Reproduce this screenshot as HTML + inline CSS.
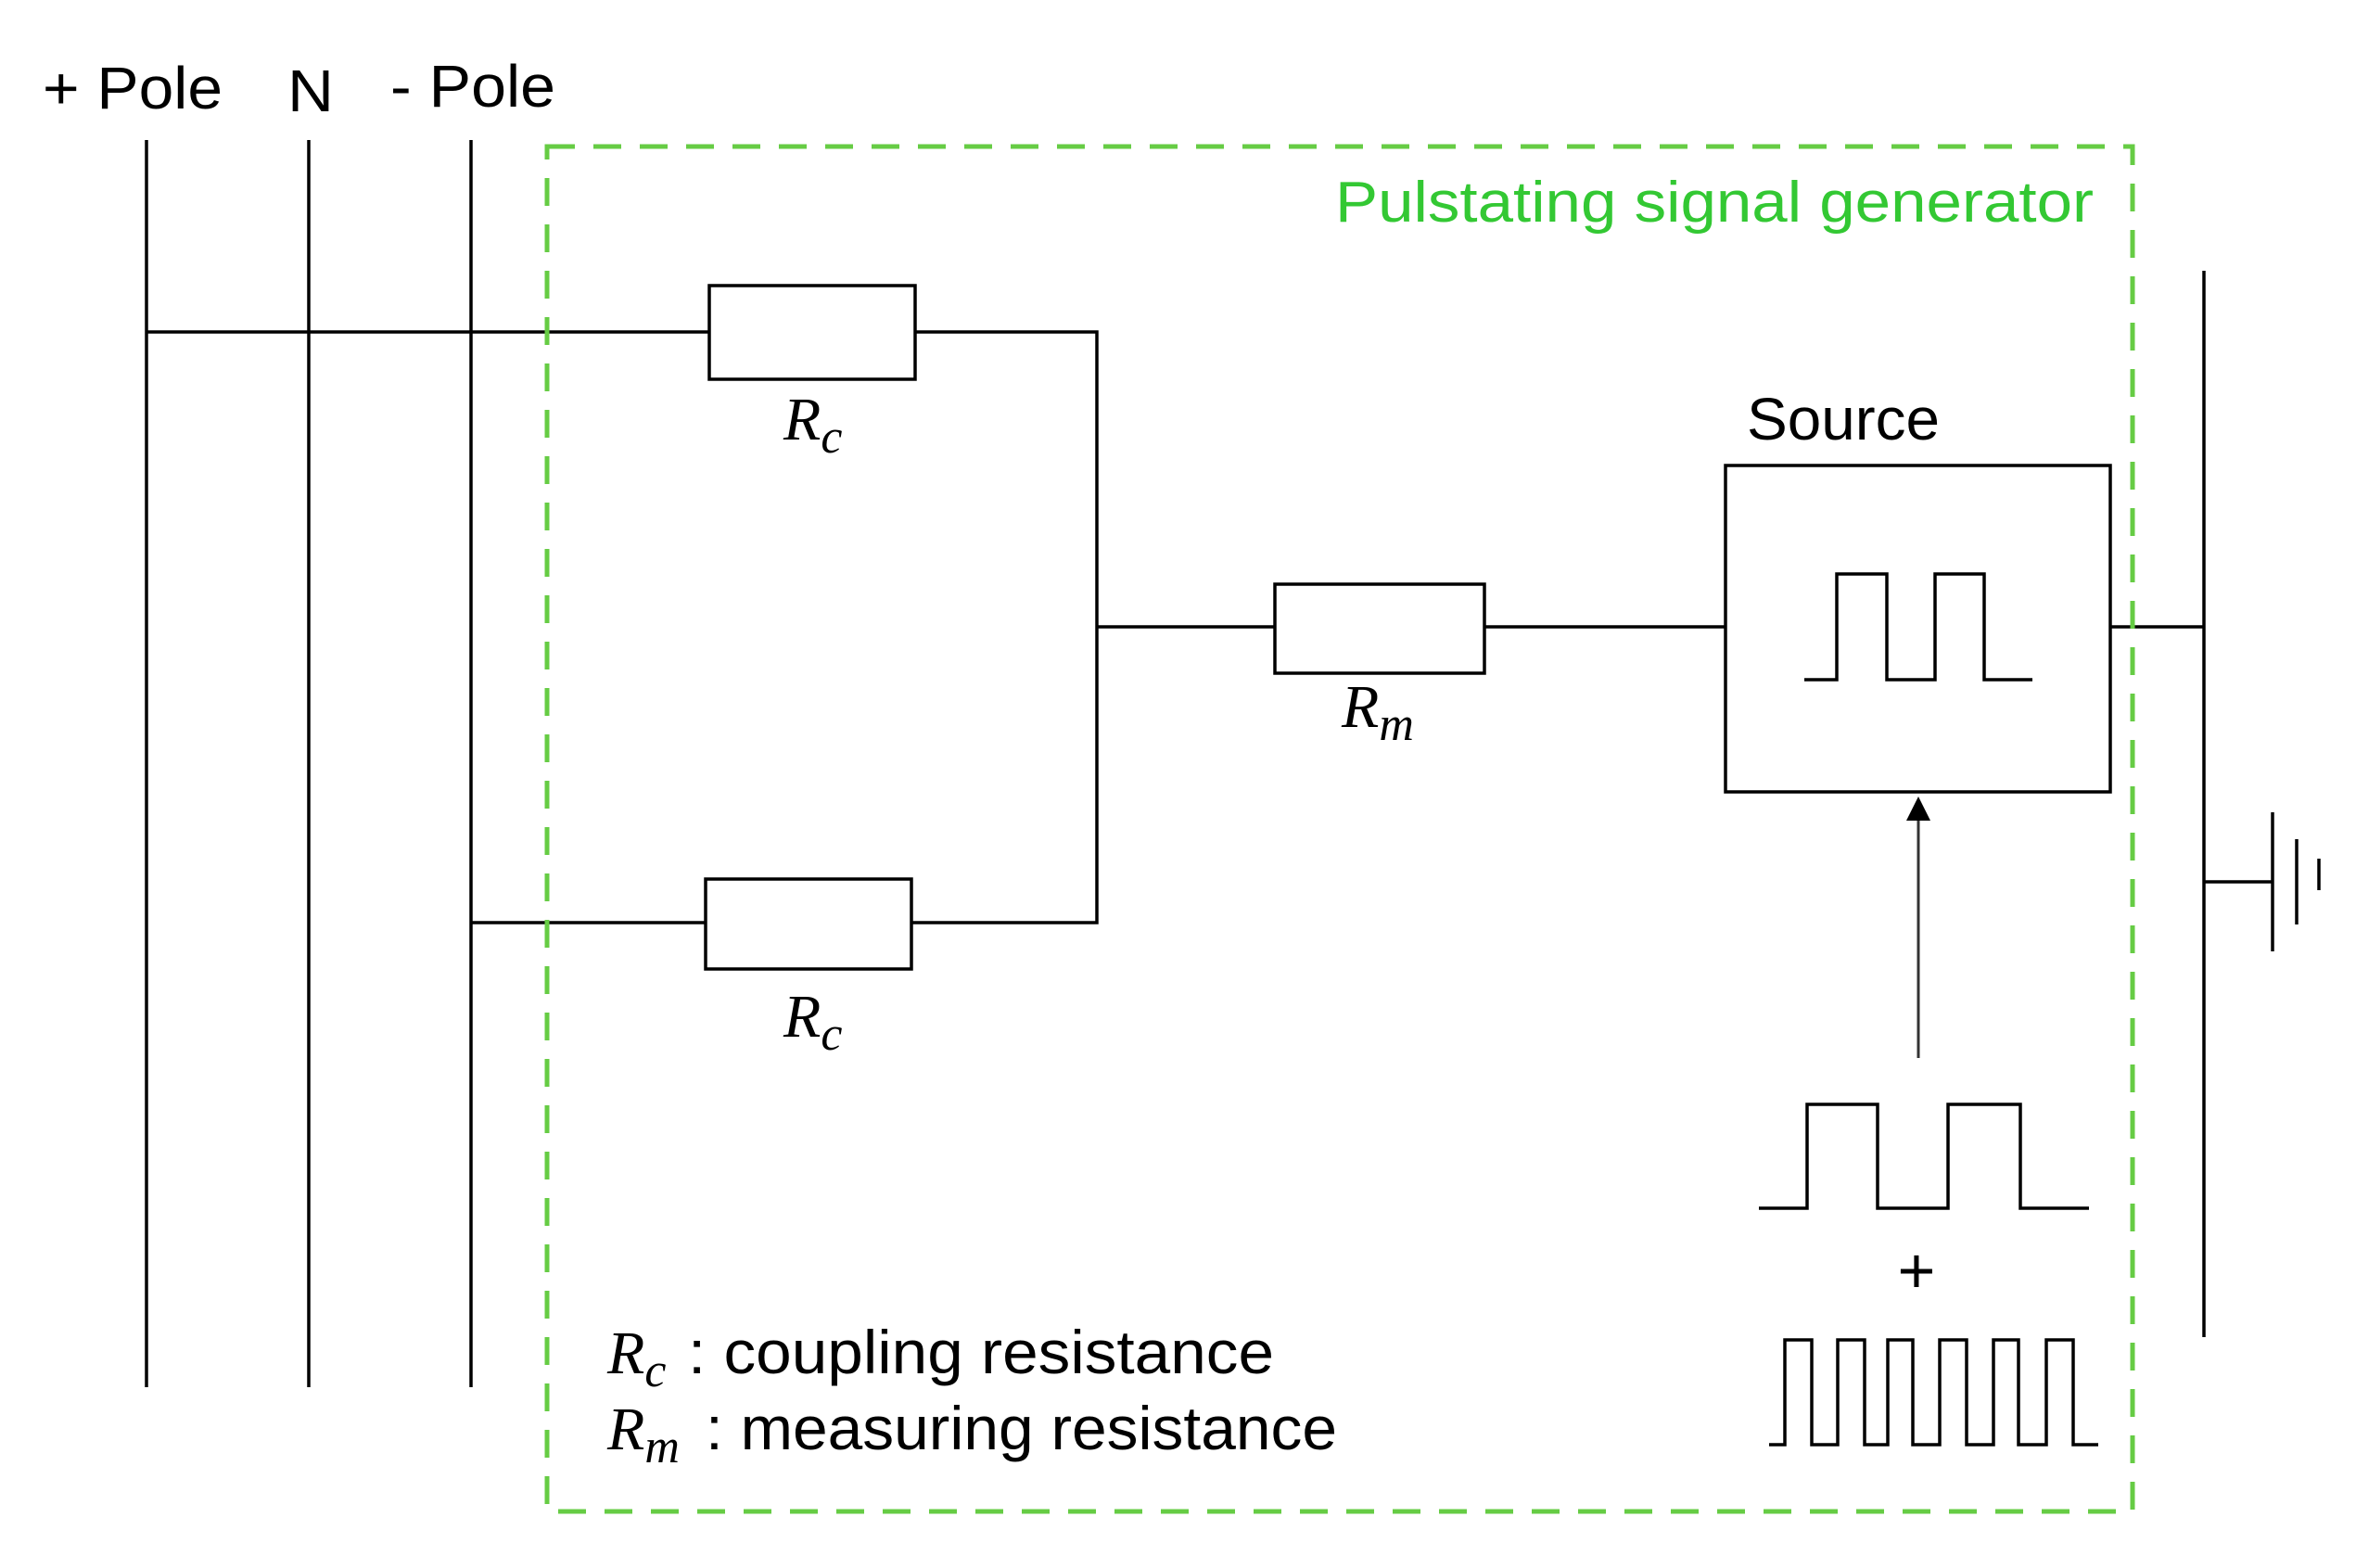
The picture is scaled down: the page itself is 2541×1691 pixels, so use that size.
<!DOCTYPE html>
<html><head><meta charset="utf-8"><style>
html,body{margin:0;padding:0;background:#fff;}
svg{display:block}
.s{font-family:"Liberation Sans",sans-serif;}
.m{font-family:"Liberation Serif",serif;font-style:italic;}
</style></head><body>
<svg width="2541" height="1691" viewBox="0 0 2541 1691" xmlns="http://www.w3.org/2000/svg">
<g stroke="#000" stroke-width="3.5" fill="none">
<line x1="158" y1="151" x2="158" y2="1496"/>
<line x1="333" y1="151" x2="333" y2="1496"/>
<line x1="508" y1="151" x2="508" y2="1496"/>
<line x1="158" y1="358" x2="765" y2="358"/>
<rect x="765" y="308" width="222" height="101" fill="#fff"/>
<polyline points="987,358 1183,358 1183,995 983,995"/>
<line x1="508" y1="995" x2="761" y2="995"/>
<rect x="761" y="948" width="222" height="97" fill="#fff"/>
<line x1="1183" y1="676" x2="1375" y2="676"/>
<rect x="1375" y="630" width="226" height="96" fill="#fff"/>
<line x1="1601" y1="676" x2="1861" y2="676"/>
<rect x="1861" y="502" width="415" height="352"/>
<line x1="2276" y1="676" x2="2377" y2="676"/>
<line x1="2377" y1="292" x2="2377" y2="1442"/>
<line x1="2377" y1="951" x2="2451" y2="951"/>
<line x1="2451" y1="876" x2="2451" y2="1026"/>
<line x1="2477" y1="905" x2="2477" y2="997"/>
<line x1="2501" y1="926" x2="2501" y2="960"/>
<polyline points="1946,733 1981,733 1981,619 2035,619 2035,733 2087,733 2087,619 2140,619 2140,733 2192,733"/>
<polyline points="1897,1303 1949,1303 1949,1191 2025,1191 2025,1303 2101,1303 2101,1191 2179,1191 2179,1303 2253,1303"/>
<polyline points="1908,1558 1925,1558 1925,1445 1954,1445 1954,1558 1982,1558 1982,1445 2011,1445 2011,1558 2036,1558 2036,1445 2063,1445 2063,1558 2092,1558 2092,1445 2121,1445 2121,1558 2150,1558 2150,1445 2177,1445 2177,1558 2207,1558 2207,1445 2236,1445 2236,1558 2263,1558"/>
</g>
<line x1="2069" y1="1141" x2="2069" y2="880" stroke="#333" stroke-width="3"/>
<polygon points="2069,859 2056,885 2082,885" fill="#000"/>
<rect x="590" y="158" width="1710" height="1472" fill="none" stroke="#66cc44" stroke-width="5" stroke-dasharray="30,20"/>
<text class="s" x="46" y="117" font-size="64" textLength="194" lengthAdjust="spacingAndGlyphs">+ Pole</text>
<text class="s" x="310" y="120" font-size="64" textLength="50" lengthAdjust="spacingAndGlyphs">N</text>
<text class="s" x="421" y="115" font-size="64" textLength="178" lengthAdjust="spacingAndGlyphs">- Pole</text>
<text class="s" x="1440" y="239" font-size="62" fill="#33c833" textLength="818" lengthAdjust="spacingAndGlyphs">Pulstating signal generator</text>
<text class="s" x="1884" y="474" font-size="64" textLength="208" lengthAdjust="spacingAndGlyphs">Source</text>
<text class="s" x="2067" y="1394" font-size="70" text-anchor="middle">+</text>
<text class="m" x="845" y="474" font-size="66">R<tspan font-size="52" dy="14">c</tspan></text>
<text class="m" x="845" y="1118" font-size="66">R<tspan font-size="52" dy="14">c</tspan></text>
<text class="m" x="1447" y="784" font-size="66">R<tspan font-size="52" dy="14">m</tspan></text>
<text class="m" x="655" y="1481" font-size="66">R<tspan font-size="52" dy="14">c</tspan></text>
<text class="s" x="742" y="1481" font-size="66" textLength="632" lengthAdjust="spacingAndGlyphs">: coupling resistance</text>
<text class="m" x="655" y="1563" font-size="66">R<tspan font-size="52" dy="14">m</tspan></text>
<text class="s" x="761" y="1563" font-size="66" textLength="681" lengthAdjust="spacingAndGlyphs">: measuring resistance</text>
</svg>
</body></html>
